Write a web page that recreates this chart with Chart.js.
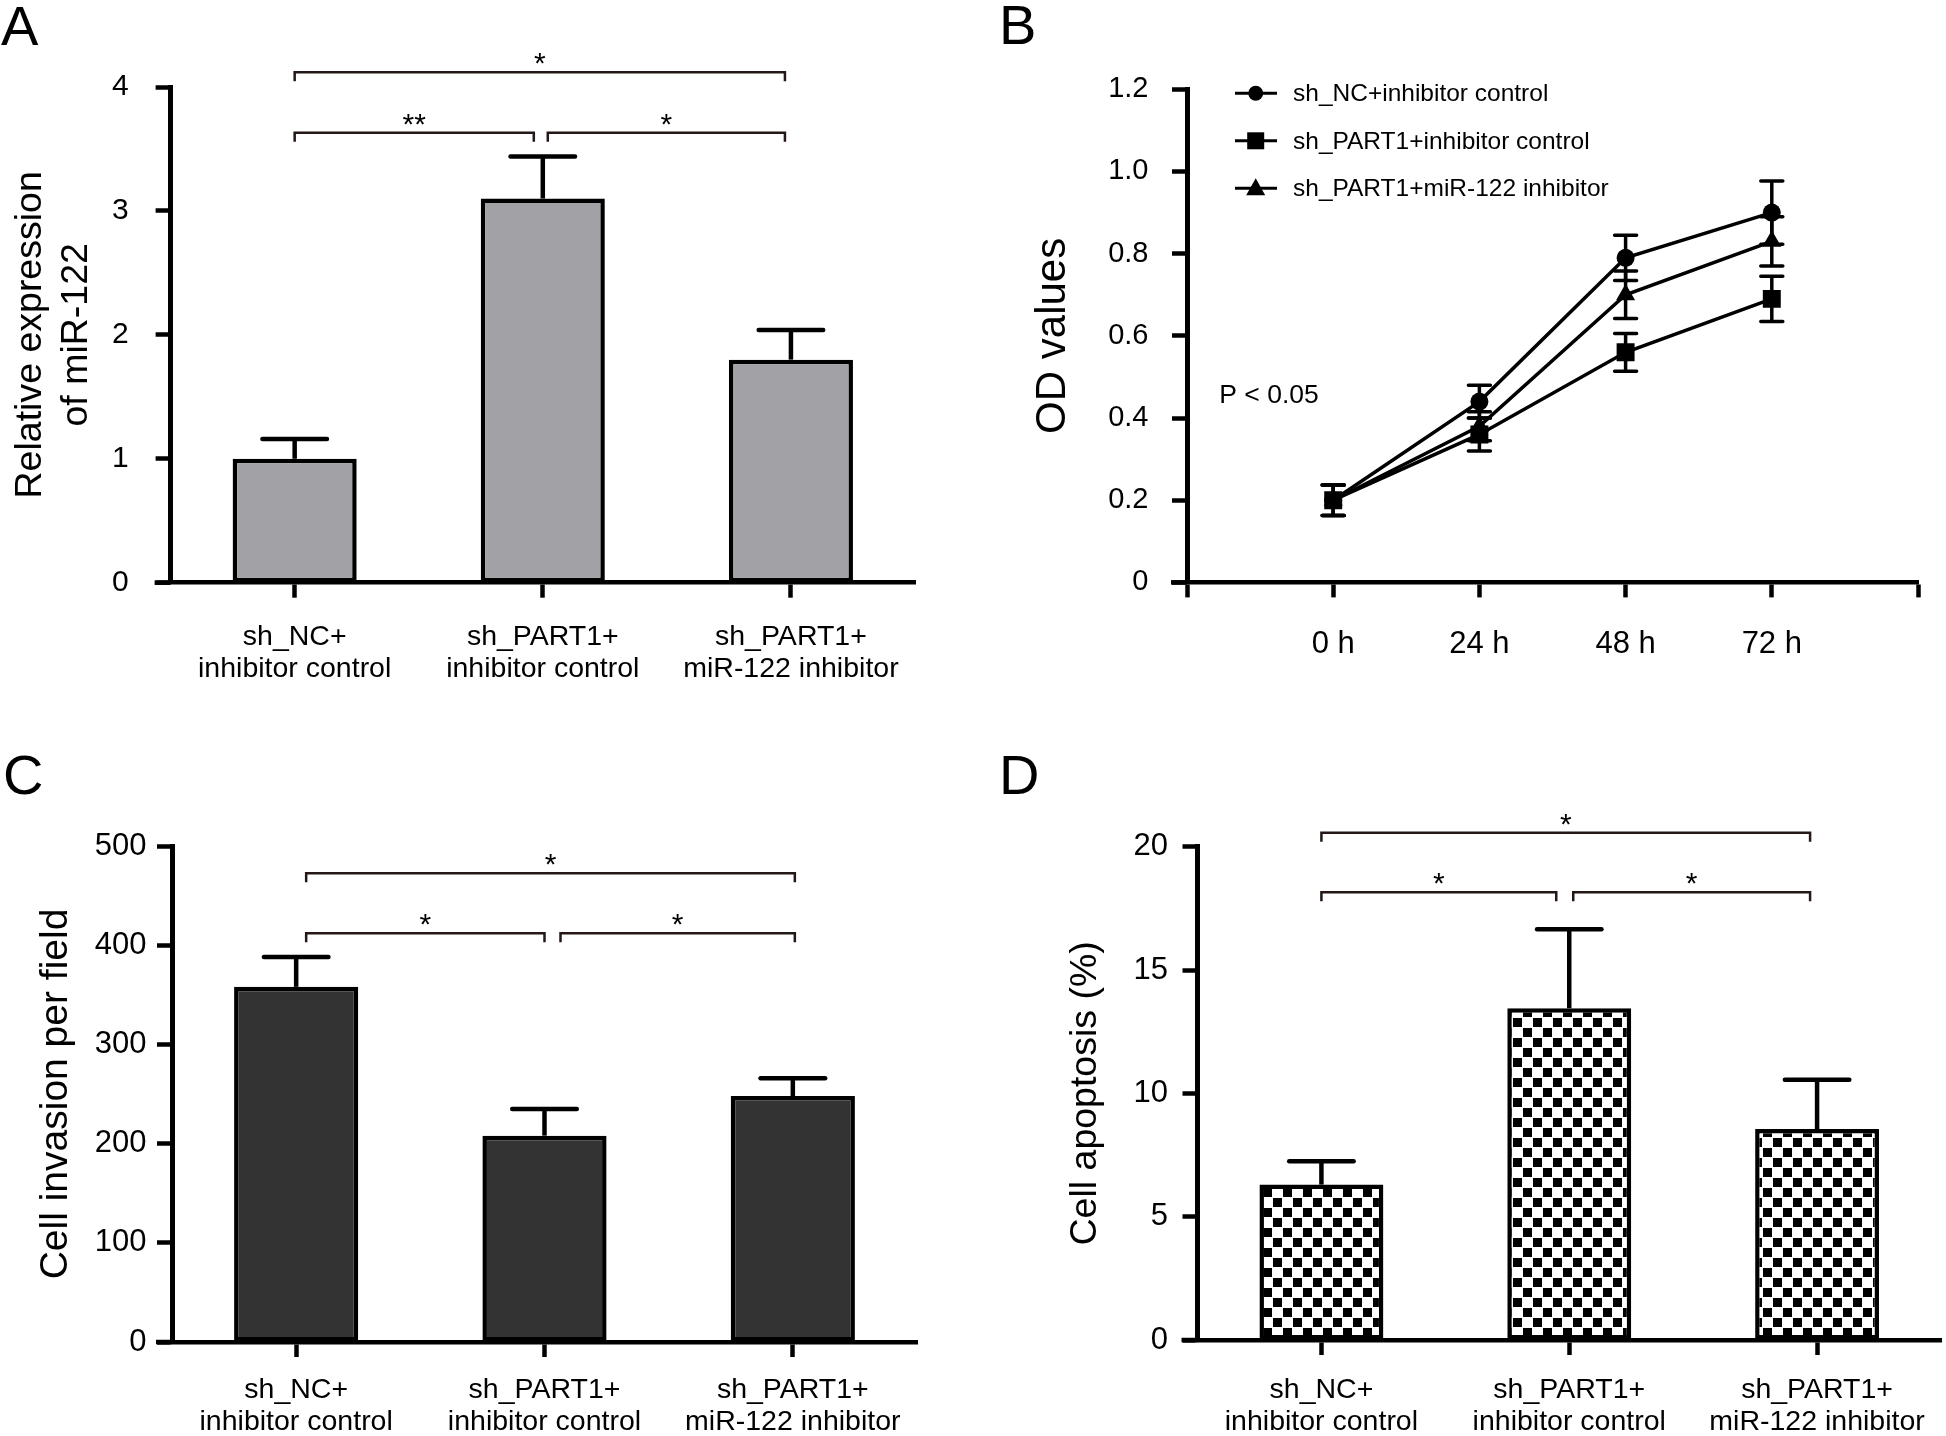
<!DOCTYPE html>
<html><head><meta charset="utf-8">
<script src="https://cdn.jsdelivr.net/npm/chart.js@4.4.1/dist/chart.umd.min.js"></script>
<style>
html,body{margin:0;padding:0;background:#fff;}
#wrap{position:relative;width:1946px;height:1436px;background:#fff;overflow:hidden;}
canvas{position:absolute;}
</style></head><body>
<div id="wrap">
<canvas id="cA" width="973" height="718" style="left:0;top:0"></canvas>
<canvas id="cB" width="973" height="718" style="left:973px;top:0"></canvas>
<canvas id="cC" width="973" height="760" style="left:0;top:718px"></canvas>
<canvas id="cD" width="973" height="760" style="left:973px;top:718px"></canvas>
</div>
<script>
// ---------------- data ----------------
const groupLabels = [['sh_NC+', 'inhibitor control'], ['sh_PART1+', 'inhibitor control'], ['sh_PART1+', 'miR-122 inhibitor']];

// Panel A
const mirValues = [1.0, 3.1, 1.8];
const mirErrors = [0.16, 0.34, 0.24];
const mirTickLabels = ['0', '1', '2', '3', '4'];
const mirBrackets = [[0, 2, 4.12, '*'], [0, 1, 3.63, '**'], [1, 2, 3.63, '*']];

// Panel B
const timeHours = [0, 24, 48, 72];
const timeTickLabels = ['0 h', '24 h', '48 h', '72 h'];
const odSeriesLabels = ['sh_NC+inhibitor control', 'sh_PART1+inhibitor control', 'sh_PART1+miR-122 inhibitor'];
const odNC = [0.20, 0.44, 0.79, 0.90];
const odNCErr = [0.037, 0.04, 0.055, 0.077];
const odPART1 = [0.20, 0.36, 0.56, 0.69];
const odPART1Err = [0.037, 0.04, 0.046, 0.055];
const odMiR = [0.20, 0.38, 0.70, 0.83];
const odMiRErr = [0.037, 0.035, 0.058, 0.06];
const odTickLabels = ['0', '0.2', '0.4', '0.6', '0.8', '1.0', '1.2'];
const pValueText = 'P < 0.05';

// Panel C
const invasionValues = [358, 208, 248];
const invasionErrors = [30, 27, 18];
const invasionTickLabels = ['0', '100', '200', '300', '400', '500'];
const invasionBrackets = [[0, 2, 472.5, '*'], [0, 1, 412, '*'], [1, 2, 412, '*']];

// Panel D
const apoptosisValues = [6.3, 13.45, 8.55];
const apoptosisErrors = [0.95, 3.2, 2.0];
const apoptosisTickLabels = ['0', '5', '10', '15', '20'];
const apoptosisBrackets = [[0, 2, 20.57, '*'], [0, 1, 18.15, '*'], [1, 2, 18.15, '*']];

// ---------------- styling ----------------
const FONT = "'Liberation Sans', Arial, Helvetica, sans-serif";
Chart.defaults.font.family = FONT;
Chart.defaults.color = '#000';

function checker(ctx) {
  const c = document.createElement('canvas');
  c.width = 20; c.height = 20;
  const g = c.getContext('2d');
  g.fillStyle = '#fff'; g.fillRect(0, 0, 20, 20);
  g.fillStyle = '#000'; g.fillRect(0, 0, 9, 9); g.fillRect(10, 10, 9, 9);
  return ctx.createPattern(c, 'repeat');
}

const panelLetter = {
  id: 'panelLetter',
  afterDraw(chart, args, o) {
    const ctx = chart.ctx;
    ctx.save();
    ctx.font = '56px ' + FONT;
    ctx.fillStyle = '#000';
    ctx.textAlign = 'left';
    ctx.textBaseline = 'alphabetic';
    ctx.fillText(o.text, o.x, o.y);
    ctx.restore();
  }
};

function extendXAxis(chart) {
  const ctx = chart.ctx, a = chart.chartArea;
  ctx.save();
  ctx.strokeStyle = '#000';
  ctx.lineWidth = 4.5;
  ctx.beginPath();
  ctx.moveTo(a.left - 16, a.bottom);
  ctx.lineTo(a.left, a.bottom);
  ctx.stroke();
  ctx.restore();
}

const barAnnot = {
  id: 'barAnnot',
  afterDatasetsDraw(chart, args, o) {
    const ctx = chart.ctx, xs = chart.scales.x, ys = chart.scales.y;
    const meta = chart.getDatasetMeta(0);
    ctx.save();
    ctx.strokeStyle = '#000';
    ctx.lineWidth = 4.5;
    o.values.forEach((v, i) => {
      const bar = meta.data[i];
      const cx = bar.x;
      const yTop = ys.getPixelForValue(v);
      const yErr = ys.getPixelForValue(v + o.errors[i]);
      const hw = bar.width * 0.26;
      ctx.lineCap = 'butt';
      ctx.beginPath(); ctx.moveTo(cx, yTop); ctx.lineTo(cx, yErr); ctx.stroke();
      ctx.lineCap = 'round';
      ctx.beginPath(); ctx.moveTo(cx - hw, yErr); ctx.lineTo(cx + hw, yErr); ctx.stroke();
    });
    // significance brackets
    ctx.strokeStyle = '#231815';
    ctx.fillStyle = '#000';
    ctx.lineWidth = 2.5;
    ctx.lineCap = 'butt';
    ctx.font = '30px ' + FONT;
    ctx.textAlign = 'center';
    ctx.textBaseline = 'alphabetic';
    const b = o.bracket;
    o.brackets.forEach(([i, j, yv, label]) => {
      const x1 = xs.getPixelForValue(i) + b.shift + (i === 1 ? b.gapR : 0);
      const x2 = xs.getPixelForValue(j) + b.shift - (j === 1 ? b.gapL : b.endInset);
      const yy = ys.getPixelForValue(yv);
      ctx.beginPath();
      ctx.moveTo(x1, yy + 9); ctx.lineTo(x1, yy); ctx.lineTo(x2, yy); ctx.lineTo(x2, yy + 9);
      ctx.stroke();
      ctx.fillText(label, (x1 + x2) / 2, yy + 1);
    });
    ctx.restore();
    extendXAxis(chart);
  }
};

function barChart(id, c) {
  const ctx = document.getElementById(id).getContext('2d');
  const fill = c.fill === 'checker' ? checker(ctx) : c.fill;
  return new Chart(ctx, {
    type: 'bar',
    data: {
      labels: groupLabels,
      datasets: [{
        data: c.values, backgroundColor: fill, borderColor: '#000', borderWidth: 4.5,
        borderSkipped: false, categoryPercentage: 1, barPercentage: 0.5
      }]
    },
    options: {
      responsive: false, animation: false, events: [],
      layout: { padding: c.padding },
      plugins: {
        legend: { display: false }, tooltip: { enabled: false },
        barAnnot: { values: c.values, errors: c.errors, brackets: c.brackets, bracket: c.bracket },
        panelLetter: c.letter
      },
      scales: {
        x: {
          type: 'category', offset: true,
          grid: { offset: false, drawOnChartArea: false, drawTicks: true, tickLength: 15, tickWidth: 4.5, tickColor: '#000' },
          border: { display: true, width: 4.5, color: '#000' },
          ticks: { font: { size: 28.5, lineHeight: 1.13 }, color: '#000', padding: c.xPad, maxRotation: 0, autoSkip: false },
          afterFit: s => { s.height = c.xH; }
        },
        y: {
          min: 0, max: c.max,
          ticks: { stepSize: c.step, font: { size: c.tickSize }, color: '#000', padding: c.yPad,
                   callback: (v, i) => c.tickLabels[i] },
          grid: { drawOnChartArea: false, drawTicks: true, tickLength: 15, tickWidth: 4.5, tickColor: '#000' },
          border: { display: true, width: 5, color: '#000' },
          title: { display: true, text: c.title, color: '#000',
                   font: { size: c.titleSize, lineHeight: c.titleLH }, padding: { top: c.titlePad, bottom: 0 } },
          afterFit: s => { s.width = c.yW; }
        }
      }
    },
    plugins: [barAnnot, panelLetter]
  });
}

// Panel A
barChart('cA', {
  values: mirValues, errors: mirErrors, brackets: mirBrackets,
  bracket: { shift: 0, gapL: 9, gapR: 5, endInset: 6 },
  fill: '#a2a1a6', max: 4, step: 1, tickLabels: mirTickLabels, tickSize: 30, yPad: 27,
  title: ['Relative expression', 'of miR-122'], titleSize: 37.5, titleLH: 1.227, titlePad: 8,
  yW: 170.6, xH: 110, xPad: 23,
  padding: { left: 0, right: 58, top: 87, bottom: 25.3 },
  letter: { text: 'A', x: 1, y: 45 }
});

// Panel C
barChart('cC', {
  values: invasionValues, errors: invasionErrors, brackets: invasionBrackets,
  bracket: { shift: 10, gapL: 10, gapR: 6, endInset: 8 },
  fill: '#333333', max: 500, step: 100, tickLabels: invasionTickLabels, tickSize: 31, yPad: 10.5,
  title: 'Cell invasion per field', titleSize: 39, titleLH: 1.2, titlePad: 32.6,
  yW: 172, xH: 120, xPad: 17,
  padding: { left: 0, right: 56, top: 128, bottom: 16 },
  letter: { text: 'C', x: 3, y: 76 }
});

// Panel D
barChart('cD', {
  values: apoptosisValues, errors: apoptosisErrors, brackets: apoptosisBrackets,
  bracket: { shift: 0, gapL: 13, gapR: 4, endInset: 7 },
  fill: 'checker', max: 20, step: 5, tickLabels: apoptosisTickLabels, tickSize: 31, yPad: 14.5,
  title: 'Cell apoptosis (%)', titleSize: 37.5, titleLH: 1.2, titlePad: 90.5,
  yW: 224.5, xH: 120, xPad: 19,
  padding: { left: 0, right: 5, top: 128.7, bottom: 18 },
  letter: { text: 'D', x: 26, y: 76 }
});

// Panel B
const odSeries = [
  { label: odSeriesLabels[0], values: odNC, errors: odNCErr, style: 'circle', r: 9 },
  { label: odSeriesLabels[1], values: odPART1, errors: odPART1Err, style: 'rect', r: 12.7 },
  { label: odSeriesLabels[2], values: odMiR, errors: odMiRErr, style: 'triangle', r: 11 }
];

function legendMarker(ctx, style, x, y) {
  ctx.beginPath();
  if (style === 'circle') ctx.arc(x, y, 7.5, 0, Math.PI * 2);
  else if (style === 'rect') ctx.rect(x - 8.5, y - 8.5, 17, 17);
  else { ctx.moveTo(x, y - 10); ctx.lineTo(x + 9.5, y + 7); ctx.lineTo(x - 9.5, y + 7); ctx.closePath(); }
  ctx.fill();
}

const lineAnnot = {
  id: 'lineAnnot',
  afterDatasetsDraw(chart, args, o) {
    const ctx = chart.ctx, xs = chart.scales.x, ys = chart.scales.y, a = chart.chartArea;
    ctx.save();
    ctx.strokeStyle = '#000';
    ctx.fillStyle = '#000';
    ctx.lineWidth = 3.5;
    odSeries.forEach(s => {
      s.values.forEach((v, i) => {
        const cx = xs.getPixelForValue(timeHours[i]);
        const y1 = ys.getPixelForValue(v + s.errors[i]);
        const y2 = ys.getPixelForValue(v - s.errors[i]);
        ctx.lineCap = 'butt';
        ctx.beginPath(); ctx.moveTo(cx, y1); ctx.lineTo(cx, y2); ctx.stroke();
        ctx.lineCap = 'round';
        ctx.beginPath();
        ctx.moveTo(cx - 11, y1); ctx.lineTo(cx + 11, y1);
        ctx.moveTo(cx - 11, y2); ctx.lineTo(cx + 11, y2);
        ctx.stroke();
      });
    });
    // legend
    ctx.lineCap = 'butt';
    ctx.lineWidth = 3;
    ctx.font = '24.5px ' + FONT;
    ctx.textAlign = 'left';
    ctx.textBaseline = 'middle';
    odSeries.forEach((s, k) => {
      const yy = a.top + 4 + k * 47.5;
      const mx = a.left + 68.7;
      ctx.beginPath(); ctx.moveTo(a.left + 48, yy); ctx.lineTo(a.left + 90, yy); ctx.stroke();
      legendMarker(ctx, s.style, mx, yy);
      ctx.fillText(s.label, a.left + 106, yy + 1);
    });
    // p-value annotation
    ctx.font = '26.5px ' + FONT;
    ctx.fillText(pValueText, xs.getPixelForValue(o.pX), ys.getPixelForValue(o.pY));
    ctx.restore();
    extendXAxis(chart);
  }
};

new Chart(document.getElementById('cB').getContext('2d'), {
  type: 'line',
  data: {
    datasets: odSeries.map(s => ({
      label: s.label,
      data: timeHours.map((t, i) => ({ x: t, y: s.values[i] })),
      borderColor: '#000', backgroundColor: '#000', borderWidth: 3.5,
      pointStyle: s.style, pointRadius: s.r, pointBackgroundColor: '#000',
      pointBorderColor: '#000', pointBorderWidth: 0, tension: 0, fill: false
    }))
  },
  options: {
    responsive: false, animation: false, events: [],
    layout: { padding: { left: 0, right: 14, top: 89.3, bottom: 25.6 } },
    plugins: {
      legend: { display: false }, tooltip: { enabled: false },
      lineAnnot: { pX: -18.7, pY: 0.454 },
      panelLetter: { text: 'B', x: 26, y: 44 }
    },
    scales: {
      x: {
        type: 'linear', min: -24, max: 96,
        ticks: { stepSize: 24, autoSkip: false, maxRotation: 0, font: { size: 31 }, color: '#000', padding: 28,
                 callback: v => { const i = timeHours.indexOf(v); return i < 0 ? '' : timeTickLabels[i]; } },
        grid: { drawOnChartArea: false, drawTicks: true, tickLength: 15, tickWidth: 4.5, tickColor: '#000' },
        border: { display: true, width: 4.5, color: '#000' },
        afterFit: s => { s.height = 110; }
      },
      y: {
        min: 0, max: 1.2,
        ticks: { stepSize: 0.2, font: { size: 29 }, color: '#000', padding: 23.5, callback: (v, i) => odTickLabels[i] },
        grid: { drawOnChartArea: false, drawTicks: true, tickLength: 15, tickWidth: 4.5, tickColor: '#000' },
        border: { display: true, width: 5, color: '#000' },
        title: { display: true, text: 'OD values', color: '#000', font: { size: 42, lineHeight: 1.2 }, padding: { top: 54.8, bottom: 0 } },
        afterFit: s => { s.width = 214; }
      }
    }
  },
  plugins: [lineAnnot, panelLetter]
});
</script>
</body></html>
